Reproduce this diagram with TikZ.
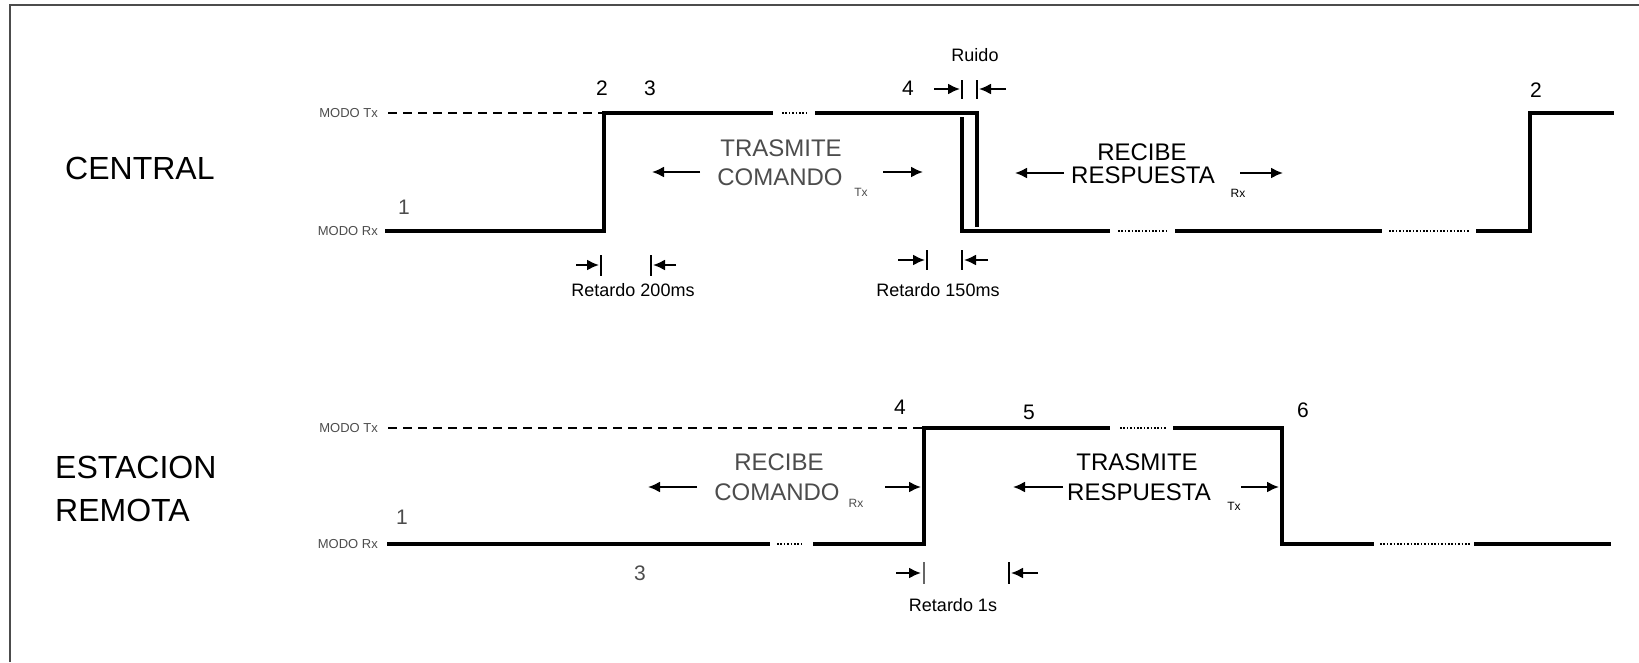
\documentclass[tikz,border=0pt]{standalone}
\usepackage{fontspec}
\setmainfont{Liberation Sans}
\usetikzlibrary{arrows.meta}
\tikzset{
  sig/.style={line width=3.6pt, line join=miter, line cap=butt},
  tdash/.style={line width=2pt, dash pattern=on 9pt off 6pt},
  dotseg/.style={line width=2pt, dash pattern=on 1.6pt off 1.8pt},
  arr/.style={line width=2pt, -{Latex[length=12pt,width=11pt]}},
  dbar/.style={line width=2pt},
  big/.style={inner sep=0pt, font=\fontsize{32}{32}\selectfont},
  mid/.style={inner sep=0pt, font=\fontsize{24}{24}\selectfont},
  num/.style={inner sep=0pt, font=\fontsize{21}{21}\selectfont},
  small/.style={inner sep=0pt, font=\fontsize{18}{18}\selectfont},
  modo/.style={inner sep=0pt, anchor=east, black!70, font=\fontsize{13}{13}\selectfont},
  sub/.style={inner sep=0pt, font=\fontsize{12}{12}\selectfont},
  faded/.style={black!70}
}
\begin{document}
\begin{tikzpicture}[x=1pt,y=-1pt]
\useasboundingbox (0,0) rectangle (1639,662);
% frame
\draw[line width=1.2pt, black!70] (10,662) -- (10,5) -- (1639,5);

% ===== CENTRAL =====
\node[big, anchor=west] (central) at (65,168) {CENTRAL};
\node[modo] (ctx) at (378,113) {MODO Tx};
\node[modo] (crx) at (378,231) {MODO Rx};
\coordinate (c0) at (385,231);
\coordinate (c1) at (604,231);
\coordinate (c2) at (604,113);
\draw[tdash] (388,113) -- (c2);
\draw[sig] (c0) -- (c1) -- (c2) -- (773,113);
\draw[dotseg] (782,113) -- (808,113);
\draw[sig] (815,113) -- (977,113) -- (977,227);
\draw[sig] (962,117) -- (962,231) -- (1110,231);
\draw[dotseg] (1118,231) -- (1166,231);
\draw[sig] (1175,231) -- (1382,231);
\draw[dotseg] (1389,231) -- (1470,231);
\draw[sig] (1476,231) -- (1530,231) -- (1530,113) -- (1614,113);

\node[num, faded] (n1a) at (404,207) {1};
\node[num] (n2a) at (602,88) {2};
\node[num] (n3a) at (650,88) {3};
\node[num] (n4a) at (908,88) {4};
\node[num] (n2b) at (1536,90) {2};

\node[mid, faded] (tc1) at (781,148) {TRASMITE};
\node[mid, faded] (tc2) at (780,177) {COMANDO};
\node[sub, faded] (tcs) at (861,192) {Tx};
\draw[arr] (700,172) -- (652,172);
\draw[arr] (883,172) -- (923,172);

\node[mid] (rr1) at (1142,152) {RECIBE};
\node[mid] (rr2) at (1143,175) {RESPUESTA};
\node[sub] (rrs) at (1238,193) {Rx};
\draw[arr] (1064,173) -- (1015,173);
\draw[arr] (1240,173) -- (1283,173);

% Ruido
\node[small] (ruido) at (975,55) {Ruido};
\draw[arr] (934,89) -- (960,89);
\draw[dbar] (962,80) -- (962,99);
\draw[dbar] (977,80) -- (977,99);
\draw[arr] (1006,89) -- (979,89);

% Retardo 200ms
\draw[arr] (576,265) -- (599,265);
\draw[dbar] (601,255) -- (601,276);
\draw[dbar] (651,255) -- (651,276);
\draw[arr] (676,265) -- (653,265);
\node[small] (r200) at (633,290) {Retardo 200ms};

% Retardo 150ms
\draw[arr] (898,260) -- (925,260);
\draw[dbar] (927,250) -- (927,270);
\draw[dbar] (962,250) -- (962,270);
\draw[arr] (988,260) -- (964,260);
\node[small] (r150) at (938,290) {Retardo 150ms};

% ===== ESTACION REMOTA =====
\node[big, anchor=west] (est) at (55,467) {ESTACION};
\node[big, anchor=west] (rem) at (55,510) {REMOTA};
\node[modo] (etx) at (378,428) {MODO Tx};
\node[modo] (erx) at (378,544) {MODO Rx};
\coordinate (e0) at (387,544);
\coordinate (e1) at (924,544);
\coordinate (e2) at (924,428);
\draw[tdash] (388,428) -- (e2);
\draw[sig] (e0) -- (770,544);
\draw[dotseg] (777,544) -- (804,544);
\draw[sig] (813,544) -- (e1) -- (e2) -- (1110,428);
\draw[dotseg] (1120,428) -- (1166,428);
\draw[sig] (1173,428) -- (1282,428) -- (1282,544) -- (1374,544);
\draw[dotseg] (1380,544) -- (1470,544);
\draw[sig] (1474,544) -- (1611,544);

\node[num, faded] (n1b) at (402,517) {1};
\node[num, faded] (n3b) at (640,573) {3};
\node[num] (n4b) at (900,407) {4};
\node[num] (n5b) at (1029,412) {5};
\node[num] (n6b) at (1303,410) {6};

\node[mid, faded] (rc1) at (779,462) {RECIBE};
\node[mid, faded] (rc2) at (777,492) {COMANDO};
\node[sub, faded] (rcs) at (856,503) {Rx};
\draw[arr] (697,487) -- (648,487);
\draw[arr] (885,487) -- (921,487);

\node[mid] (tr1) at (1137,462) {TRASMITE};
\node[mid] (tr2) at (1139,492) {RESPUESTA};
\node[sub] (trs) at (1234,506) {Tx};
\draw[arr] (1063,487) -- (1013,487);
\draw[arr] (1241,487) -- (1279,487);

% Retardo 1s
\draw[arr] (896,573) -- (921,573);
\draw[dbar, black!60] (924,562) -- (924,584);
\draw[dbar] (1009,562) -- (1009,584);
\draw[arr] (1038,573) -- (1011,573);
\node[small] (r1s) at (953,605) {Retardo 1s};
\end{tikzpicture}
\end{document}
